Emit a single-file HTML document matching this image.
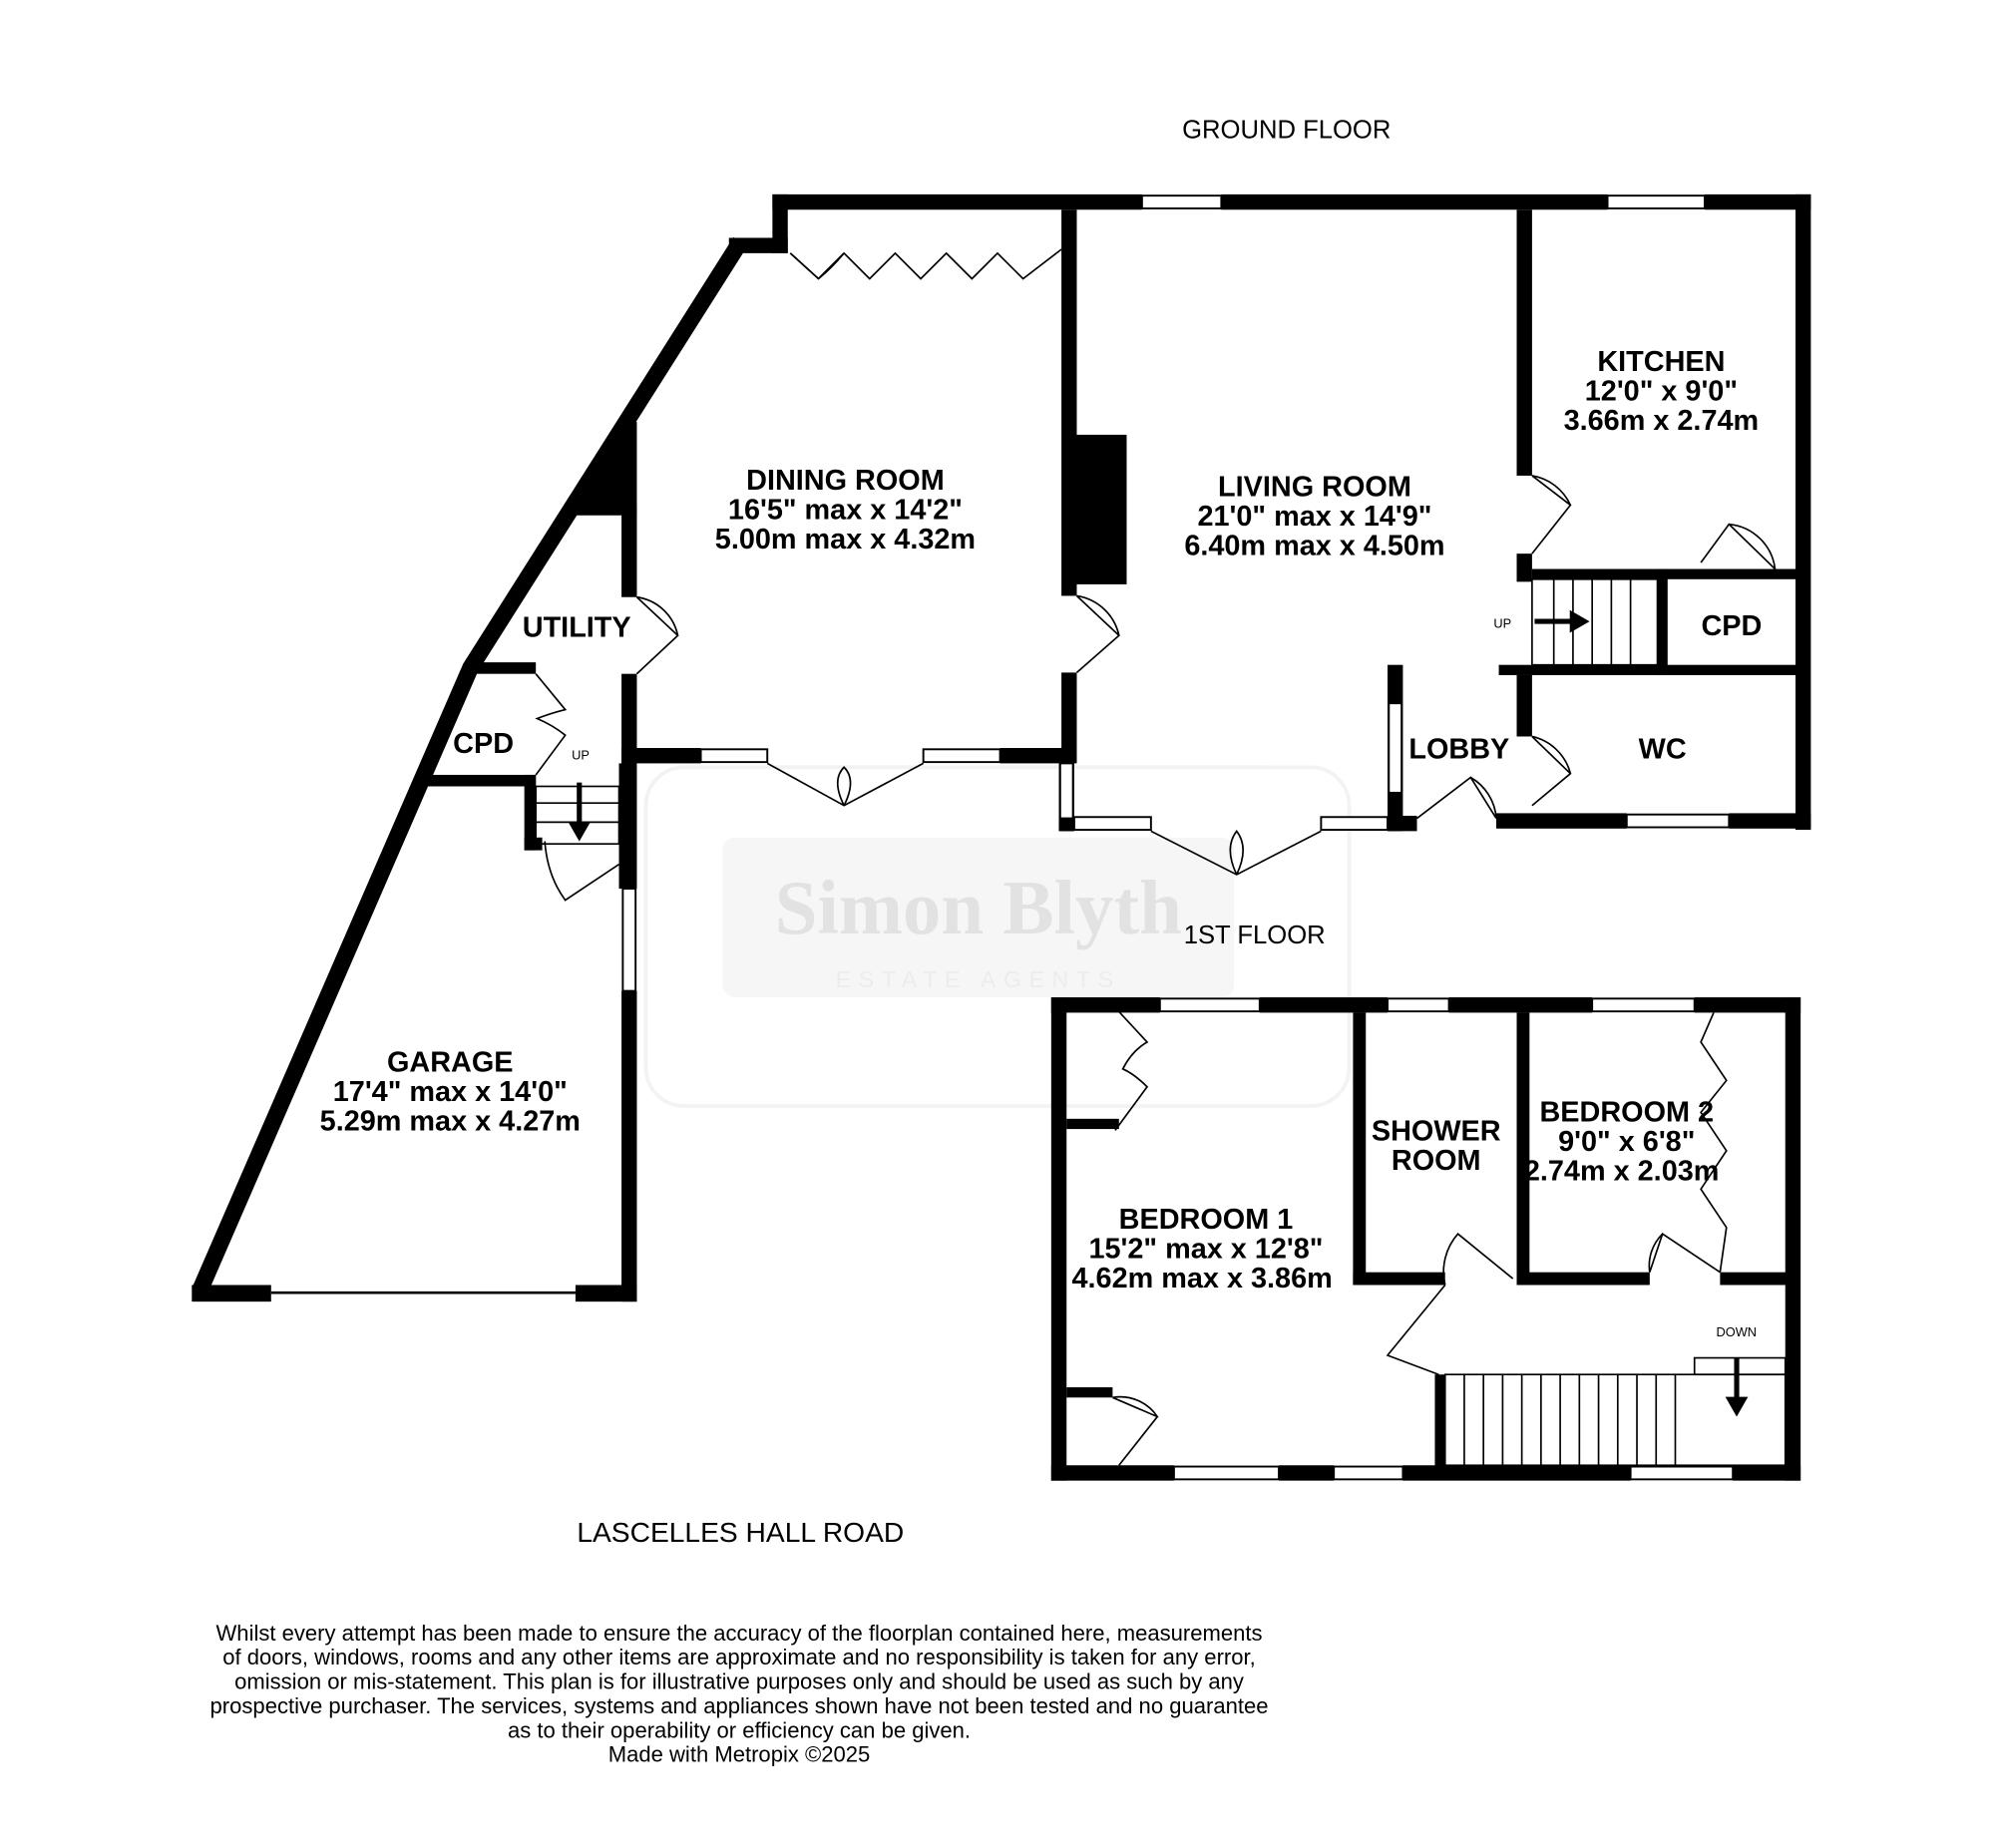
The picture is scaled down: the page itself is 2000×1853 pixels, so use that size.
<!DOCTYPE html>
<html><head><meta charset="utf-8"><style>
html,body{margin:0;padding:0;background:#fff}
svg{display:block}
text{font-family:"Liberation Sans",Arial,sans-serif}
.b{font-weight:bold;font-size:22.5px;text-anchor:middle}
</style></head><body>
<svg width="2000" height="1853" viewBox="0 0 1560 1445.3" xmlns="http://www.w3.org/2000/svg">
<rect width="1560" height="1446" fill="#fff"/>
<!-- watermark -->
<g opacity="0.10" fill="none" stroke="#888" stroke-width="3">
<rect x="505" y="600" width="550" height="265" rx="30"/>
<rect x="565" y="655" width="400" height="125" rx="10" fill="#aaa" stroke="none"/>
</g>
<text x="765" y="730" font-size="60" text-anchor="middle" fill="#e2e2e2" style="font-family:'Liberation Serif',serif;font-weight:bold">Simon Blyth</text>
<text x="765" y="772" font-size="18" text-anchor="middle" fill="#ececec" letter-spacing="6">ESTATE AGENTS</text>

<text x="1006" y="108" font-size="20" text-anchor="middle">GROUND FLOOR</text>
<text x="981" y="738" font-size="20" text-anchor="middle">1ST FLOOR</text>
<text x="579" y="1206" font-size="22" text-anchor="middle">LASCELLES HALL ROAD</text>

<g fill="#000">
<rect x="604" y="152" width="289" height="12"/><rect x="955" y="152" width="302" height="12"/><rect x="1333" y="152" width="83" height="12"/>
<rect x="604" y="152" width="12" height="46"/>
<rect x="570" y="186" width="46" height="12"/>
<polygon points="490,330 498,330 498,403 445,403"/>
<rect x="840" y="340" width="41" height="117"/>
<rect x="486" y="395" width="12" height="72"/>
<rect x="486" y="527" width="12" height="70"/>
<rect x="830" y="164" width="12" height="302"/>
<rect x="830" y="526" width="12" height="70"/>
<rect x="486" y="585" width="62" height="12"/><rect x="782" y="585" width="60" height="12"/>
<rect x="828" y="590" width="12" height="60"/>
<rect x="828" y="638" width="12" height="12"/>
<rect x="1085" y="520" width="12" height="130"/>
<rect x="1085" y="638" width="23" height="12"/>
<rect x="1186" y="164" width="12" height="208"/>
<rect x="1186" y="433" width="12" height="22"/>
<rect x="1198" y="445" width="206" height="8"/>
<rect x="1296" y="445" width="8" height="83"/>
<rect x="1172" y="520" width="232" height="8"/>
<rect x="1186" y="528" width="12" height="48"/>
<rect x="1404" y="152" width="12" height="497"/>
<rect x="1170" y="636" width="102" height="12"/><rect x="1352" y="636" width="64" height="12"/>
<!-- utility / cpd / garage -->
<rect x="372" y="518" width="47" height="9"/>
<rect x="327" y="606" width="92" height="9"/>
<rect x="410" y="606" width="9" height="59"/>
<rect x="410" y="655" width="14" height="10"/>
<rect x="484" y="597" width="14" height="98"/>
<rect x="486" y="775" width="12" height="243"/>
<rect x="150" y="1005" width="62" height="13"/>
<rect x="450" y="1005" width="48" height="13"/>
<!-- 1st floor -->
<rect x="822" y="780" width="85" height="12"/><rect x="985" y="780" width="100" height="12"/><rect x="1133" y="780" width="112" height="12"/><rect x="1325" y="780" width="83" height="12"/>
<rect x="822" y="780" width="12" height="378"/>
<rect x="1396" y="780" width="12" height="378"/>
<rect x="822" y="1146" width="96" height="12"/><rect x="1000" y="1146" width="43" height="12"/><rect x="1097" y="1146" width="178" height="12"/><rect x="1355" y="1146" width="53" height="12"/>
<rect x="1058" y="792" width="10" height="213"/>
<rect x="1058" y="995" width="72" height="10"/>
<rect x="1186" y="792" width="10" height="213"/>
<rect x="1190" y="995" width="100" height="10"/>
<rect x="1345" y="995" width="55" height="10"/>
<rect x="834" y="875" width="41" height="8"/>
<rect x="834" y="1085" width="36" height="8"/>
<rect x="1122" y="1075" width="8" height="80"/>
</g>
<polyline points="579,189 368,522 156,1010" fill="none" stroke="#000" stroke-width="13" stroke-linejoin="miter"/>
<g fill="#fff" stroke="#000" stroke-width="1.5">
<rect x="893" y="153" width="62" height="10"/><rect x="1257" y="153" width="76" height="10"/>
<rect x="548" y="586" width="52" height="10"/><rect x="722" y="586" width="60" height="10"/>
<rect x="829" y="597" width="10" height="43"/>
<rect x="840" y="639" width="60" height="10"/><rect x="1033" y="639" width="52" height="10"/>
<rect x="1086" y="550" width="10" height="70"/>
<rect x="1272" y="637" width="80" height="10"/>
<rect x="487" y="695" width="10" height="80"/>
<rect x="907" y="781" width="78" height="10"/><rect x="1085" y="781" width="48" height="10"/><rect x="1245" y="781" width="80" height="10"/>
<rect x="918" y="1147" width="82" height="10"/><rect x="1043" y="1147" width="54" height="10"/><rect x="1275" y="1147" width="80" height="10"/>
</g>
<line x1="212" y1="1011" x2="450" y2="1011" stroke="#000" stroke-width="2"/>
<g fill="none" stroke="#000" stroke-width="1.3">
<path d="M618,198 L640,218 M660,198 L640,218 M660,198 Q650,210 640,218"/>
<polyline points="618,198 640,218 660,198 680,218 700,198 720,218 740,198 760,218 780,198 800,218 830,195"/>
<path d="M498,467 L530,497 L498,527 M498,467 A38 38 0 0 1 530,497"/>
<path d="M842,466 L875,497 L842,526 M842,466 A40 40 0 0 1 875,497"/>
<path d="M600,597 L660,630 L722,597 M660,630 Q650,610 660,600 Q670,610 660,630"/>
<path d="M900,650 L967,684 L1033,650 M967,684 Q957,663 967,650 Q977,663 967,684"/>
<path d="M1198,372 L1228,395 L1198,433 M1198,372 A40 40 0 0 1 1228,395"/>
<path d="M1388,445 L1352,410 L1330,440 M1352,410 A40 40 0 0 1 1388,445"/>
<path d="M1198,576 L1228,605 L1198,630 M1198,576 A40 40 0 0 1 1228,605"/>
<path d="M1108,640 L1150,608 L1170,640 M1150,608 A40 40 0 0 1 1170,640"/>
<path d="M419,527 L442,555 Q430,558 420,562 Q432,567 442,575 L419,606"/>
<path d="M426,658 Q428,685 442,704 L484,676"/>
<path d="M872,788 L897,815 Q885,822 878,836 Q887,840 897,850 L872,884"/>
<path d="M870,1093 L905,1108 L875,1146 M870,1093 A35 35 0 0 1 905,1108"/>
<path d="M1130,1005 L1085,1060 L1125,1075 M1130,1005 A45 45 0 0 1 1140,965 L1183,1000"/>
<path d="M1290,995 L1300,965 L1345,995 M1290,995 A35 35 0 0 1 1300,965"/>
<path d="M1340,792 L1330,815 L1350,845 L1330,870 L1350,900 L1330,930 L1350,960 L1345,995"/>
<rect x="1198" y="453" width="98" height="67"/>
<path d="M1215,453V520M1230,453V520M1245,453V520M1260,453V520M1275,453V520"/>
<rect x="419" y="615" width="65" height="45"/>
<path d="M419,628H484M419,643H484"/>
<rect x="1130" y="1075" width="266" height="71"/>
<path d="M1145,1075V1146M1160,1075V1146M1175,1075V1146M1190,1075V1146M1205,1075V1146M1220,1075V1146M1235,1075V1146M1250,1075V1146M1265,1075V1146M1280,1075V1146M1295,1075V1146M1310,1075V1146"/>
<rect x="1325" y="1062" width="71" height="13"/>
</g>
<g fill="#000" stroke="#000" stroke-width="4">
<line x1="1200" y1="486" x2="1230" y2="486"/><polygon points="1228,478 1242,486 1228,494" stroke-width="1"/>
<line x1="453" y1="612" x2="453" y2="645"/><polygon points="445,643 453,657 461,643" stroke-width="1"/>
<line x1="1358" y1="1062" x2="1358" y2="1095"/><polygon points="1350,1093 1358,1107 1366,1093" stroke-width="1"/>
</g>
<g font-size="10"><text x="1168" y="491">UP</text><text x="447" y="594">UP</text><text x="1342" y="1045">DOWN</text></g>
<text class="b" x="661" y="383">DINING ROOM</text><text class="b" x="661" y="406">16'5" max x 14'2"</text><text class="b" x="661" y="429">5.00m max x 4.32m</text>
<text class="b" x="1028" y="388">LIVING ROOM</text><text class="b" x="1028" y="411">21'0" max x 14'9"</text><text class="b" x="1028" y="434">6.40m max x 4.50m</text>
<text class="b" x="1299" y="290">KITCHEN</text><text class="b" x="1299" y="313">12'0"  x 9'0"</text><text class="b" x="1299" y="336">3.66m  x 2.74m</text>
<text class="b" x="451" y="498">UTILITY</text>
<text class="b" x="378" y="589">CPD</text>
<text class="b" x="1354" y="497">CPD</text>
<text class="b" x="1300" y="593">WC</text>
<text class="b" x="1141" y="593">LOBBY</text>
<text class="b" x="352" y="838">GARAGE</text><text class="b" x="352" y="861">17'4" max x 14'0"</text><text class="b" x="352" y="884">5.29m max x 4.27m</text>
<text class="b" x="943" y="961">BEDROOM 1</text><text class="b" x="943" y="984">15'2" max x 12'8"</text><text class="b" x="940" y="1007">4.62m max x 3.86m</text>
<text class="b" x="1123" y="892">SHOWER</text><text class="b" x="1123" y="915">ROOM</text>
<text class="b" x="1272" y="877">BEDROOM 2</text><text class="b" x="1272" y="900">9'0"  x 6'8"</text><text class="b" x="1268" y="923">2.74m  x 2.03m</text>
<g font-size="17.2" text-anchor="middle">
<text x="578" y="1283">Whilst every attempt has been made to ensure the accuracy of the floorplan contained here, measurements</text>
<text x="578" y="1302">of doors, windows, rooms and any other items are approximate and no responsibility is taken for any error,</text>
<text x="578" y="1321">omission or mis-statement. This plan is for illustrative purposes only and should be used as such by any</text>
<text x="578" y="1340">prospective purchaser. The services, systems and appliances shown have not been tested and no guarantee</text>
<text x="578" y="1359">as to their operability or efficiency can be given.</text>
<text x="578" y="1378">Made with Metropix ©2025</text>
</g>
</svg>
</body></html>
